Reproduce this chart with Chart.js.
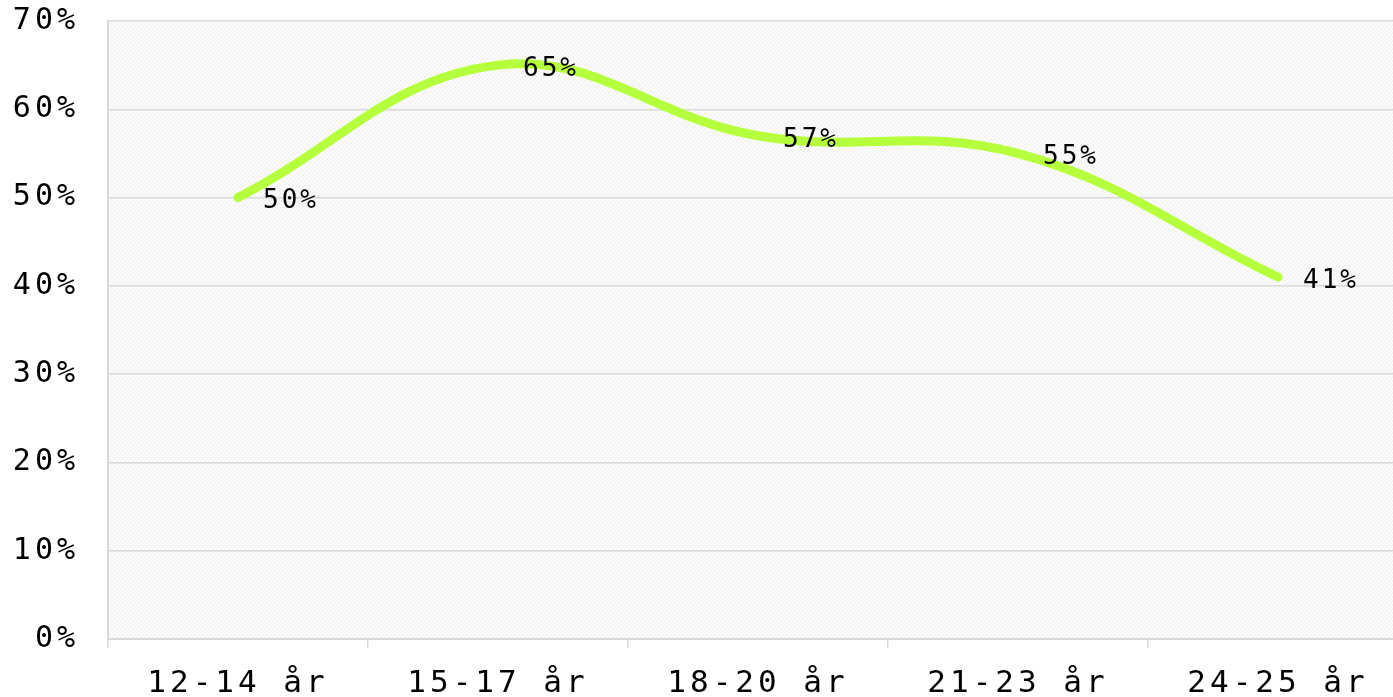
<!DOCTYPE html>
<html>
<head>
<meta charset="utf-8">
<script src="https://cdn.jsdelivr.net/npm/chart.js@4/dist/chart.umd.min.js"></script>
<style>
  html, body { margin: 0; padding: 0; background: #fff; overflow: hidden; }
  #wrap { width: 1408px; height: 697px; }
</style>
</head>
<body>
<div id="wrap"><canvas id="myChart" width="1408" height="697"></canvas></div>
<script>
const categories = ["12-14 år", "15-17 år", "18-20 år", "21-23 år", "24-25 år"];
const values = [50, 65, 57, 55, 41];
const yTicks = [0, 10, 20, 30, 40, 50, 60, 70];

const FONT = "'DejaVu Sans Mono', 'Liberation Mono', monospace";

// checkered light background for the plot area
function makePattern(ctx) {
  const c = document.createElement("canvas");
  c.width = 4; c.height = 4;
  const p = c.getContext("2d");
  p.fillStyle = "#fbfbfb";
  p.fillRect(0, 0, 4, 4);
  p.fillStyle = "#f4f4f4";
  p.fillRect(0, 0, 2, 2);
  p.fillRect(2, 2, 2, 2);
  return ctx.createPattern(c, "repeat");
}

const bgPlugin = {
  id: "plotBg",
  beforeDraw(chart) {
    const { ctx, chartArea: a } = chart;
    ctx.letterSpacing = "4px"; // wide, digital-looking text
    ctx.save();
    ctx.fillStyle = makePattern(ctx);
    ctx.fillRect(a.left, a.top, a.right - a.left, a.bottom - a.top);
    ctx.restore();
  }
};

const labelPlugin = {
  id: "pointLabels",
  afterDatasetsDraw(chart) {
    const { ctx } = chart;
    const meta = chart.getDatasetMeta(0);
    ctx.save();
    ctx.letterSpacing = "3px";
    ctx.font = "26px " + FONT;
    ctx.fillStyle = "#000";
    ctx.textAlign = "center";
    ctx.textBaseline = "middle";
    meta.data.forEach((pt, i) => {
      ctx.fillText(values[i] + "%", pt.x + 53, pt.y + 4);
    });
    ctx.restore();
  }
};

const data = {
  labels: categories,
  datasets: [
    {
      label: "Andel",
      data: values,
      borderColor: "#b5ff3c",
      backgroundColor: "#b5ff3c",
      borderWidth: 9,
      borderCapStyle: "round",
      borderJoinStyle: "round",
      tension: 0.4,
      pointRadius: 0,
      fill: false,
    },
  ],
};

const config = {
  type: "line",
  data,
  options: {
    responsive: false,
    animation: false,
    layout: { padding: { top: 21, right: 0, left: 0, bottom: 0 } },
    plugins: {
      legend: { display: false },
      tooltip: { enabled: false },
    },
    scales: {
      x: {
        offset: true,
        afterFit(scale) { scale.height = 58; scale.paddingLeft = 0; scale.paddingRight = 0; },
        grid: {
          offset: true,
          drawOnChartArea: false,
          drawTicks: true,
          tickLength: 9,
          color: "#d9d9d9",
          lineWidth: 1.5,
        },
        border: { color: "#d9d9d9", width: 2 },
        ticks: {
          color: "#000",
          padding: 17,
          maxRotation: 0,
          font: { family: FONT, size: 31 },
        },
      },
      y: {
        min: 0,
        max: 70,
        afterFit(scale) { scale.width = 108; scale.paddingTop = 0; scale.paddingBottom = 0; },
        afterBuildTicks(scale) {
          scale.ticks = yTicks.map(v => ({ value: v }));
        },
        grid: {
          drawTicks: false,
          color: "#d9d9d9",
          lineWidth: 1.5,
        },
        border: { color: "#d9d9d9", width: 2 },
        ticks: {
          color: "#000",
          padding: 29,
          font: { family: FONT, size: 30 },
          callback: v => v + "%",
        },
      },
    },
  },
  plugins: [bgPlugin, labelPlugin],
};

const myChart = new Chart(document.getElementById("myChart"), config);
</script>
</body>
</html>
